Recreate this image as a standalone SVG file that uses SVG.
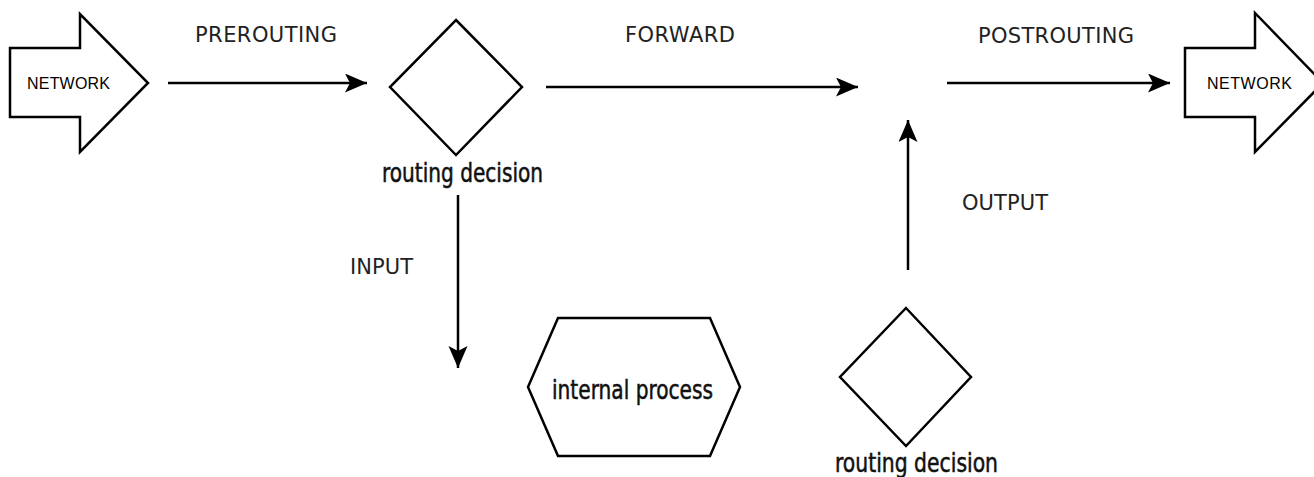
<svg xmlns="http://www.w3.org/2000/svg" width="1314" height="477" viewBox="0 0 1314 477">
<style>
.shape{fill:#fff;stroke:#000;stroke-width:2.5;stroke-linejoin:miter}
.conn{fill:none;stroke:#000;stroke-width:2.5}
.lbl{font-family:"DejaVu Sans","Liberation Sans",sans-serif;font-size:21px;fill:#222}
.net{font-family:"Liberation Sans","DejaVu Sans",sans-serif;font-size:16px;fill:#000}
.big{font-family:"DejaVu Sans Condensed","DejaVu Sans",sans-serif;font-stretch:condensed;font-size:26px;fill:#111;stroke:#111;stroke-width:0.5}
</style>
<defs>
<marker id="ah" markerUnits="userSpaceOnUse" markerWidth="24" markerHeight="20" refX="22" refY="9.5" orient="auto">
<path d="M0,0 L22,9.5 L0,19 L5,9.5 Z" fill="#000"/>
</marker>
</defs>
<rect width="1314" height="477" fill="#fff"/>
<g id="network-in">
<polygon class="shape" points="10,48 80,48 80,14 148,83 80,152 80,117 10,117"/>
<text class="net" x="27" y="89" textLength="83" lengthAdjust="spacing">NETWORK</text>
</g>
<g id="routing-decision-1">
<polygon class="shape" points="456,20 522,87 456,155 390,87"/>
<text class="big" x="382" y="182" textLength="161" lengthAdjust="spacingAndGlyphs">routing decision</text>
</g>
<g id="internal-process">
<polygon class="shape" points="558,318 710,318 740,387 710,456 558,456 528,387"/>
<text class="big" x="552" y="399" textLength="161" lengthAdjust="spacingAndGlyphs">internal process</text>
</g>
<g id="routing-decision-2">
<polygon class="shape" points="906,308 971,377 906,446 840,377"/>
<text class="big" x="835" y="472" textLength="163" lengthAdjust="spacingAndGlyphs">routing decision</text>
</g>
<g id="network-out">
<polygon class="shape" points="1185,48 1255,48 1255,13 1323,83 1255,152 1255,117 1185,117"/>
<text class="net" x="1207" y="89" textLength="85" lengthAdjust="spacing">NETWORK</text>
</g>
<g id="connectors">
<path class="conn" d="M168,83 H367" marker-end="url(#ah)"/>
<path class="conn" d="M546,87 H858" marker-end="url(#ah)"/>
<path class="conn" d="M947,83 H1170" marker-end="url(#ah)"/>
<path class="conn" d="M458,195 V368" marker-end="url(#ah)"/>
<path class="conn" d="M908,270 V120" marker-end="url(#ah)"/>
<text class="lbl" x="195" y="42" textLength="142" lengthAdjust="spacing">PREROUTING</text>
<text class="lbl" x="625" y="42" textLength="110" lengthAdjust="spacing">FORWARD</text>
<text class="lbl" x="978" y="43" textLength="156" lengthAdjust="spacing">POSTROUTING</text>
<text class="lbl" x="350" y="274" textLength="63" lengthAdjust="spacing">INPUT</text>
<text class="lbl" x="962" y="210" textLength="86" lengthAdjust="spacing">OUTPUT</text>
</g>
</svg>
